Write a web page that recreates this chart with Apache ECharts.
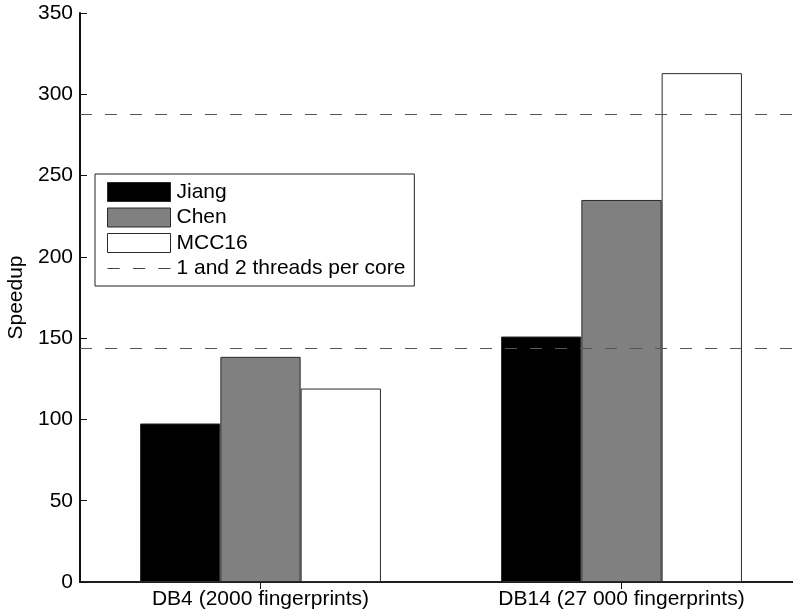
<!DOCTYPE html>
<html>
<head>
<meta charset="utf-8">
<script src="https://cdn.jsdelivr.net/npm/echarts@6/dist/echarts.min.js"></script>
<style>
  html, body { margin: 0; padding: 0; background: #fff; }
  #chart { width: 793px; height: 615px; }
</style>
</head>
<body>
<div id="chart"></div>
<script>
// Speedup per method on two fingerprint databases
const categories = ['DB4 (2000 fingerprints)', 'DB14 (27 000 fingerprints)'];
const jiang = [97.5, 151];
const chen = [138.5, 235];
const mcc16 = [119, 313];
// Ideal speedup with 1 and 2 threads per core
const threadLevels = [144, 288];
const yTicks = { min: 0, max: 350, interval: 50 };

const FONT = 'Liberation Sans, Arial, Helvetica, sans-serif';
const FS = 21;
const barBorder = { borderColor: '#2a2a2a', borderWidth: 1 };

function barSeries(name, values, color) {
  return {
    name: name,
    type: 'bar',
    data: values,
    barWidth: 80.3,
    barGap: '0%',
    itemStyle: Object.assign({ color: color }, barBorder),
    emphasis: { disabled: true },
    animation: false
  };
}

const chart = echarts.init(document.getElementById('chart'), null, { renderer: 'canvas' });

chart.setOption({
  backgroundColor: '#ffffff',
  animation: false,
  textStyle: { fontFamily: FONT },
  // the plot box runs a little past the right edge of the page
  grid: { left: 80, top: 13, width: 722, height: 569, containLabel: false, outerBoundsMode: 'none' },
  legend: {
    orient: 'vertical',
    left: 95,
    top: 174,
    backgroundColor: '#ffffff',
    borderColor: '#222',
    borderWidth: 1,
    padding: [7.5, 9, 7, 12],
    itemWidth: 63,
    itemHeight: 19,
    itemGap: 4.5,
    selectedMode: false,
    textStyle: { fontFamily: FONT, fontSize: FS, color: '#000', padding: [0, 0, 0, 1] },
    data: [
      { name: 'Jiang', icon: 'rect', itemStyle: Object.assign({ color: '#000' }, barBorder) },
      { name: 'Chen', icon: 'rect', itemStyle: Object.assign({ color: '#808080' }, barBorder) },
      { name: 'MCC16', icon: 'rect', itemStyle: Object.assign({ color: '#fff' }, barBorder) },
      { name: '1 and 2 threads per core', icon: 'path://M0,0 L12,0 L12,1 L0,1 Z M25,0 L37,0 L37,1 L25,1 Z M50,0 L62,0 L62,1 L50,1 Z',
        itemStyle: { color: '#444', borderWidth: 0 } }
    ]
  },
  xAxis: [
    {
      type: 'category',
      data: categories,
      position: 'bottom',
      axisLine: { show: true, lineStyle: { color: '#111', width: 1.5 } },
      axisTick: { show: true, inside: true, alignWithLabel: true, length: 7, lineStyle: { color: '#111' } },
      axisLabel: { fontFamily: FONT, fontSize: FS, color: '#000', margin: 7 },
      splitLine: { show: false }
    },
    {
      type: 'category',
      data: categories,
      position: 'top',
      axisLine: { show: true, lineStyle: { color: '#111', width: 1.5 } },
      axisTick: { show: true, inside: true, alignWithLabel: true, length: 7, lineStyle: { color: '#111' } },
      axisLabel: { show: false },
      splitLine: { show: false }
    }
  ],
  yAxis: [
    {
      type: 'value',
      min: yTicks.min,
      max: yTicks.max,
      interval: yTicks.interval,
      name: 'Speedup',
      nameLocation: 'middle',
      nameGap: 50,
      nameRotate: 90,
      nameTextStyle: { fontFamily: FONT, fontSize: FS, color: '#000' },
      axisLine: { show: true, lineStyle: { color: '#111', width: 2 } },
      axisTick: { show: true, inside: true, length: 7, lineStyle: { color: '#111' } },
      axisLabel: { fontFamily: FONT, fontSize: FS, color: '#000', margin: 7 },
      splitLine: { show: false }
    },
    {
      type: 'value',
      min: yTicks.min,
      max: yTicks.max,
      interval: yTicks.interval,
      position: 'right',
      axisLine: { show: true, lineStyle: { color: '#111', width: 1.5 } },
      axisTick: { show: true, inside: true, length: 7 },
      axisLabel: { show: false },
      splitLine: { show: false }
    }
  ],
  series: [
    barSeries('Jiang', jiang, '#000000'),
    barSeries('Chen', chen, '#808080'),
    barSeries('MCC16', mcc16, '#ffffff'),
    {
      name: '1 and 2 threads per core',
      type: 'line',
      data: [],
      symbol: 'none',
      lineStyle: { color: '#444', width: 1, type: [12, 13] },
      markLine: {
        silent: true,
        symbol: ['none', 'none'],
        label: { show: false },
        lineStyle: { color: '#555', width: 1.2, type: [12, 13] },
        data: threadLevels.map(v => ({ yAxis: v }))
      }
    }
  ]
});
</script>
</body>
</html>
